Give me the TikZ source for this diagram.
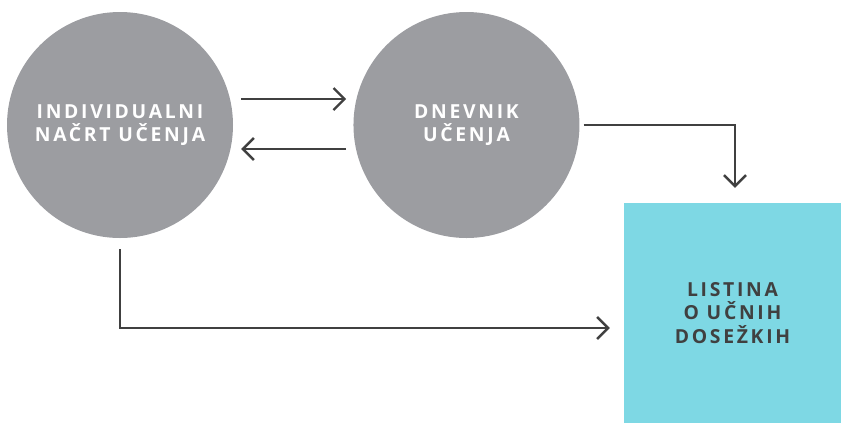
\documentclass[tikz,border=0pt]{standalone}
\usepackage{fontspec}
\newfontfamily\labelfont[LetterSpace=14]{Open Sans}
\usetikzlibrary{positioning, calc, arrows.meta}
\definecolor{phasegray}{HTML}{9C9DA1}
\definecolor{recordcyan}{HTML}{7ED8E4}
\definecolor{linegray}{HTML}{404040}
\tikzset{
phase/.style = {circle, fill = phasegray, minimum size = 6.78cm, inner sep = 0pt,
   align = center, text = white, font = \labelfont\bfseries\fontsize{16.5}{19.6}\selectfont},
record/.style = {rectangle, fill = recordcyan, minimum width = 6.51cm,
   minimum height = 6.6cm, inner sep = 0pt, align = center, text = linegray,
   font = \labelfont\bfseries\fontsize{16.5}{20.4}\selectfont},
flow/.style = {-{Straight Barb[length = 3.3mm, width = 6.6mm]}, line width = 2.1pt,
   draw = linegray}
}

\begin{document}
\begin{tikzpicture}

\useasboundingbox (0,0) rectangle (25.23,-12.69);

%% Plan and diary
\node [phase] (P1) at (3.6,-3.75) {INDIVIDUALNI\\NAČRT UČENJA};
\node [phase] (P2) [right = 3.6cm of P1] {DNEVNIK\\UČENJA};

%% Record
\node [record] (L1) at (21.975,-9.39) {LISTINA\\O UČNIH\\DOSEŽKIH};

%% Flows
\draw [flow] ([shift = {(0.24,0.78)}]P1.east) -- ([shift = {(-0.21,0.78)}]P2.west);
\draw [flow] ([shift = {(-0.21,-0.72)}]P2.west) -- ([shift = {(0.24,-0.72)}]P1.east);
\draw [flow, shorten < = 0.12cm, shorten > = 0.45cm] (P2.east) -| ([xshift = 0.075cm]L1.north);
\draw [flow, shorten < = 0.33cm, shorten > = 0.42cm] (P1.south) |- ([yshift = -0.45cm]L1.west);

\end{tikzpicture}
\end{document}
